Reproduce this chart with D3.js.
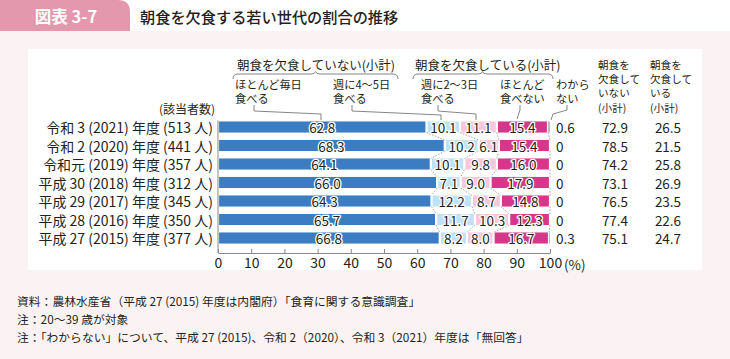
<!DOCTYPE html>
<html><head><meta charset="utf-8">
<script src="https://cdn.jsdelivr.net/npm/d3@7"></script>
<style>
html,body{margin:0;padding:0;background:#fff;}
svg{display:block;font-family:"Noto Sans CJK JP","Noto Sans",sans-serif;}
</style></head>
<body>
<svg id="chart" width="730" height="359"></svg>
<script>
const categories = [
  "令和 3 (2021) 年度 (513 人)",
  "令和 2 (2020) 年度  (441 人)",
  "令和元 (2019) 年度  (357 人)",
  "平成 30 (2018) 年度  (312 人)",
  "平成 29 (2017) 年度  (345 人)",
  "平成 28 (2016) 年度  (350 人)",
  "平成 27 (2015) 年度  (377 人)"
];
const everyday   = [62.8, 68.3, 64.1, 66.0, 64.3, 65.7, 66.8];
const fourFive   = [10.1, 10.2, 10.1, 7.1, 12.2, 11.7, 8.2];
const twoThree   = [11.1, 6.1, 9.8, 9.0, 8.7, 10.3, 8.0];
const rarely     = [15.4, 15.4, 16.0, 17.9, 14.8, 12.3, 16.7];
const unknown    = [0.6, 0, 0, 0, 0, 0, 0.3];
const notSkipping = [72.9, 78.5, 74.2, 73.1, 76.5, 77.4, 75.1];
const skipping    = [26.5, 21.5, 25.8, 26.9, 23.5, 22.6, 24.7];
const xTicks = [0, 10, 20, 30, 40, 50, 60, 70, 80, 90, 100];
const seriesNames = ["ほとんど毎日食べる", "週に4〜5日食べる", "週に2〜3日食べる", "ほとんど食べない", "わからない"];
const seriesColors = ["#3b7cc3", "#bfe3f6", "#f7c7dc", "#d6378a", "#bbbbbb"];

const svg = d3.select("#chart");
const TXT = "#231f20";

// background
svg.append("rect").attr("x",0).attr("y",0).attr("width",730).attr("height",359).attr("fill","#fff");
svg.append("rect").attr("x",0).attr("y",31).attr("width",730).attr("height",328).attr("fill","#fbf3f3");
svg.append("rect").attr("x",28).attr("y",49).attr("width",674).attr("height",221).attr("fill","#fff");
// title tab
svg.append("path").attr("d","M0,0 H118 Q130,0 130,12 V31 H0 Z").attr("fill","#e398ad");
svg.append("text").attr("x",66).attr("y",16).attr("text-anchor","middle").attr("dominant-baseline","central")
  .attr("fill","#fff").attr("font-size",16.5).attr("font-weight","bold").text("図表 3-7");
svg.append("text").attr("x",140).attr("y",16).attr("dominant-baseline","central")
  .attr("fill",TXT).attr("font-size",15.2).attr("font-weight","500").text("朝食を欠食する若い世代の割合の推移");

// scales
const x = d3.scaleLinear().domain([0,100]).range([218,550]);
const y = d3.scaleBand().domain(categories).range([117.75,247.25]).paddingInner(0.4).paddingOuter(0.2);
const bh = y.bandwidth();

const series = [everyday, fourFive, twoThree, rarely, unknown];
const rows = categories.map((c,i)=>{
  let acc = 0;
  const segs = series.map((s,k)=>{ const s0 = acc; acc += s[i]; return {k, v:s[i], x0:s0, x1:acc}; });
  return {c, i, segs};
});

// dotted connectors
const conn = svg.append("g").attr("stroke","#8a8a8a").attr("stroke-width",0.8).attr("stroke-dasharray","1.5,1.5").attr("fill","none");
for (let i=0;i<rows.length-1;i++){
  [0,1,2,3].forEach(k=>{
    const a = rows[i].segs[k].x1, b = rows[i+1].segs[k].x1;
    conn.append("line").attr("x1",x(a)).attr("y1",y(categories[i])+bh)
      .attr("x2",x(b)).attr("y2",y(categories[i+1]));
  });
}

// bars
const gBars = svg.append("g");
rows.forEach(r=>{
  r.segs.forEach(s=>{
    if (s.v<=0) return;
    const w = x(s.x1)-x(s.x0);
    const gap = s.k===4 ? 0 : 1.1;
    gBars.append("rect")
      .attr("x", x(s.x0)+gap).attr("y", y(r.c))
      .attr("width", Math.max(0.8, w-2*gap)).attr("height", bh)
      .attr("fill", seriesColors[s.k]);
  });
});

// segment labels
const gLab = svg.append("g").attr("font-size",13.5).attr("fill",TXT)
  .attr("text-anchor","middle").attr("dominant-baseline","central");
rows.forEach(r=>{
  r.segs.slice(0,4).forEach(s=>{
    gLab.append("text").attr("x",(x(s.x0)+x(s.x1))/2).attr("y",y(r.c)+bh/2)
      .attr("stroke","#fff").attr("stroke-width",2.6).attr("paint-order","stroke").attr("stroke-linejoin","round")
      .text(d3.format(".1f")(s.v));
  });
  gLab.append("text").attr("x",556).attr("text-anchor","start").attr("y",y(r.c)+bh/2)
    .text(r.segs[4].v===0 ? "0" : d3.format(".1f")(r.segs[4].v));
  gLab.append("text").attr("x",615).attr("y",y(r.c)+bh/2).text(d3.format(".1f")(notSkipping[r.i]));
  gLab.append("text").attr("x",668).attr("y",y(r.c)+bh/2).text(d3.format(".1f")(skipping[r.i]));
});

// category labels
svg.append("g").selectAll("text").data(categories).join("text")
  .attr("x",213).attr("y",d=>y(d)+bh/2).attr("text-anchor","end").attr("dominant-baseline","central")
  .attr("font-size",14).attr("fill",TXT).text(d=>d);
svg.append("text").attr("x",215).attr("y",108.5).attr("text-anchor","end").attr("dominant-baseline","central")
  .attr("font-size",12).attr("fill",TXT).text("(該当者数)");

// axis
const axisY = 253;
const ax = svg.append("g").attr("transform",`translate(0,${axisY})`)
  .call(d3.axisBottom(x).tickValues(xTicks).tickSizeInner(-4).tickSizeOuter(0).tickPadding(5).tickFormat(d3.format("d")));
ax.select(".domain").attr("stroke","#888");
ax.selectAll(".tick line").attr("stroke","#888");
ax.selectAll(".tick text").attr("font-size",14).attr("fill",TXT).attr("font-family","'Noto Sans CJK JP','Noto Sans',sans-serif");
svg.append("line").attr("x1",x(0)).attr("x2",x(0)).attr("y1",y(categories[0])-1).attr("y2",axisY).attr("stroke","#888");
svg.append("text").attr("x",564).attr("y",264).attr("dominant-baseline","central").attr("font-size",13.5).attr("fill",TXT).text("(%)");

// header annotations
const hdr = svg.append("g").attr("fill",TXT);
hdr.append("text").attr("x",237).attr("y",64).attr("dominant-baseline","central").attr("font-size",12.5).text("朝食を欠食していない(小計)");
hdr.append("text").attr("x",415).attr("y",64).attr("dominant-baseline","central").attr("font-size",12.5).text("朝食を欠食している(小計)");
const subs = [[235,["ほとんど毎日","食べる"]],[333,["週に4〜5日","食べる"]],[421,["週に2〜3日","食べる"]],[500,["ほとんど","食べない"]],[556,["わから","ない"]]];
function lineTexts(g, xx, yc0, lh, fs, arr){
  arr.forEach((s,j)=>g.append("text").attr("x",xx).attr("y",yc0+j*lh)
    .attr("dominant-baseline","central").attr("font-size",fs).text(s));
}
subs.forEach(s=>lineTexts(hdr, s[0], 83.5, 14.5, 11.2, s[1]));
const colH = [[598,["朝食を","欠食して","いない","(小計)"]],[650,["朝食を","欠食して","いる","(小計)"]]];
colH.forEach(c=>lineTexts(hdr, c[0], 64.5, 14.2, 10.6, c[1]));

const lines = svg.append("g").attr("fill","none").attr("stroke","#777").attr("stroke-width",0.9);
lines.append("path").attr("d","M233,79 Q233,74 238,74 H311 Q315,74 315.5,71.5 Q316,74 320,74 H393 Q398,74 398,79");
lines.append("path").attr("d","M413,79 Q413,74 418,74 H478 Q482,74 482.5,71.5 Q483,74 487,74 H548 Q553,74 553,79");
lines.append("path").attr("d","M254,105 V111 L321,114 V120");
lines.append("path").attr("d","M352,105 V111 L441,115 V120");
lines.append("path").attr("d","M438,105 V111 L476,114 V120");
lines.append("path").attr("d","M520,105 V110 L517,119");
lines.append("path").attr("d","M567,105 V110 L553,114 L551,120");

// footnotes
const fn = svg.append("g").attr("font-size",11.8).attr("fill",TXT).attr("dominant-baseline","central");
fn.append("text").attr("x",17).attr("y",300).text("資料：農林水産省（平成 27 (2015) 年度は内閣府）「食育に関する意識調査」");
fn.append("text").attr("x",17).attr("y",318).text("注：20〜39 歳が対象");
fn.append("text").attr("x",17).attr("y",336).text("注：「わからない」について、平成 27 (2015)、令和 2（2020）、令和 3（2021）年度は「無回答」");
</script>
</body></html>
